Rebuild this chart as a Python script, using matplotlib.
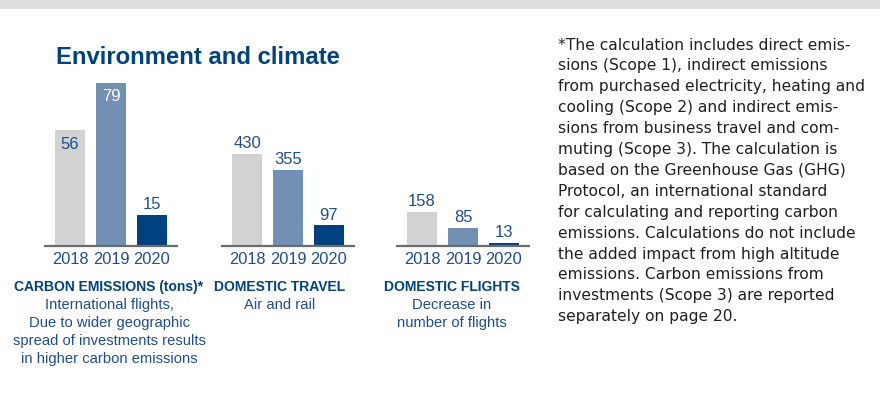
import matplotlib.pyplot as plt
from matplotlib.patches import Rectangle

W, H = 880, 412

years = ["2018", "2019", "2020"]
carbon = [56, 79, 15]
travel = [430, 355, 97]
flights = [158, 85, 13]

headings = ["CARBON EMISSIONS (tons)*", "DOMESTIC TRAVEL", "DOMESTIC FLIGHTS"]
notes = [
    ["International flights,", "Due to wider geographic",
     "spread of investments results", "in higher carbon emissions"],
    ["Air and rail"],
    ["Decrease in", "number of flights"],
]
footnote = [
    "*The calculation includes direct emis-",
    "sions (Scope 1), indirect emissions",
    "from purchased electricity, heating and",
    "cooling (Scope 2) and indirect emis-",
    "sions from business travel and com-",
    "muting (Scope 3). The calculation is",
    "based on the Greenhouse Gas (GHG)",
    "Protocol, an international standard",
    "for calculating and reporting carbon",
    "emissions. Calculations do not include",
    "the added impact from high altitude",
    "emissions. Carbon emissions from",
    "investments (Scope 3) are reported",
    "separately on page 20.",
]

bar_colors = ["#d1d2d4", "#7190b3", "#00427f"]
navy = "#00427f"
text_blue = "#1d4f8c"

plt.rcParams["font.family"] = ["Liberation Sans", "DejaVu Sans"]

fig = plt.figure(figsize=(W / 100, H / 100), dpi=100)


def px(x, y):
    return x / W, 1 - y / H


def box(x, y, w, h):
    return [x / W, 1 - (y + h) / H, w / W, h / H]


# grey strip along the top edge
fig.add_artist(Rectangle((0, 1 - 9 / H), 1, 9 / H, transform=fig.transFigure,
                         color="#dcdddf", lw=0))

fig.text(*px(56, 57), "Environment and climate", fontsize=17.2,
         fontweight="bold", color=navy, va="center", ha="left")

panels = [
    (45, carbon, 85.3),
    (222, travel, 824),
    (397, flights, 824),
]
base_y = 246
ax_h = 176

for i, (left, vals, ymax) in enumerate(panels):
    ax = fig.add_axes(box(left, base_y - ax_h, 132, ax_h))
    xs = range(len(vals))
    ax.bar(xs, vals, width=0.73, color=bar_colors)
    ax.set_xlim(-0.61, 2.61)
    ax.set_ylim(0, ymax)
    for s in ["top", "left", "right"]:
        ax.spines[s].set_visible(False)
    ax.spines["bottom"].set_color("#6b6b6b")
    ax.spines["bottom"].set_linewidth(1.6)
    ax.set_yticks([])
    ax.set_xticks(list(xs))
    ax.set_xticklabels(years, fontsize=11.8, color=text_blue)
    ax.tick_params(axis="x", length=0, pad=4.5)
    for j, v in enumerate(vals):
        # tall bars carry their value inside, the rest above
        if v > 0.6 * ymax:
            col = "white" if j == 1 else text_blue
            ax.annotate(str(v), (j, v), xytext=(0, -4.5), textcoords="offset points",
                        ha="center", va="top", fontsize=12, color=col)
        else:
            ax.annotate(str(v), (j, v), xytext=(0, 2), textcoords="offset points",
                        ha="center", va="bottom", fontsize=12, color=text_blue)

centers = [109, 280, 452]
for cx, head, lines in zip(centers, headings, notes):
    fig.text(*px(cx, 287), head, fontsize=10, fontweight="bold", color=navy,
             ha="center", va="center")
    for k, line in enumerate(lines):
        fig.text(*px(cx, 305 + 18 * k), line, fontsize=10.6, color=text_blue,
                 ha="center", va="center")

for k, line in enumerate(footnote):
    fig.text(*px(558, 45 + 20.9 * k), line, fontsize=11.2, color="#231f20",
             ha="left", va="center", family="DejaVu Sans")

fig.savefig("out.png", dpi=100)
